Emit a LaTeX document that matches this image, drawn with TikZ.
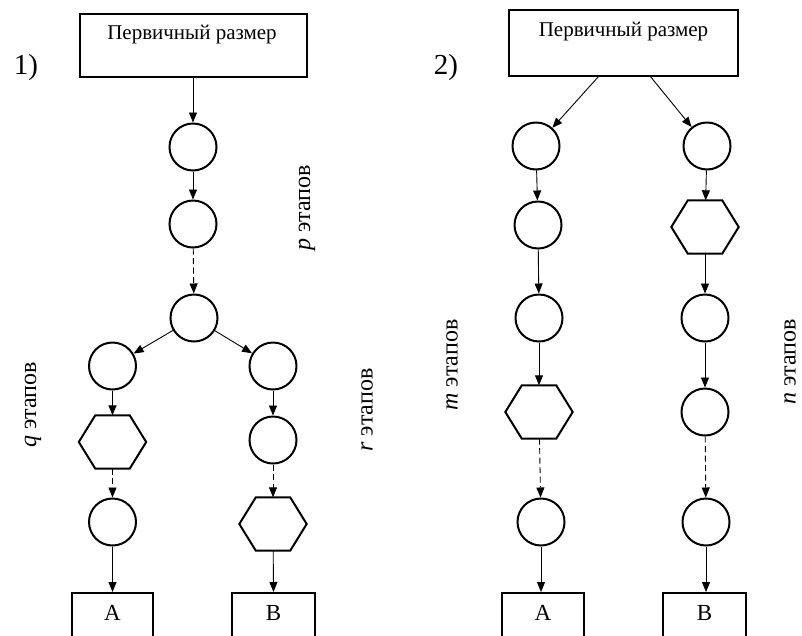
\documentclass[tikz,border=0pt]{standalone}
\usepackage{fontspec}
\setmainfont{Liberation Serif}
\usetikzlibrary{arrows.meta}
\newcommand{\hexdraw}[1]{\draw[shapeline] (#1.west) -- ([xshift=16.5pt]#1.north west) -- ([xshift=-16.5pt]#1.north east) -- (#1.east) -- ([xshift=-16.5pt]#1.south east) -- ([xshift=16.5pt]#1.south west) -- cycle;}
\tikzset{
  stage/.style={circle, draw, line width=2pt, minimum size=47pt, inner sep=0pt},
  hexbox/.style={rectangle, minimum width=67pt, minimum height=53pt, inner sep=0pt},
  shapeline/.style={line width=2pt, line join=miter},
  frame/.style={draw, rectangle, line width=2pt, inner sep=0pt},
  arr/.style={-{Triangle[length=10pt,width=8pt]}, line width=0.9pt},
  darr/.style={arr, dash pattern=on 6pt off 3.5pt},
  lbl/.style={font=\fontsize{21}{24}\selectfont},
  letter/.style={font=\fontsize{23}{26}\selectfont},
  num/.style={font=\fontsize{29}{32}\selectfont},
  side/.style={rotate=90, font=\fontsize{24}{27}\selectfont},
}
\begin{document}
\begin{tikzpicture}[x=1pt,y=1pt]
\clip (0,0) rectangle (802,-635);
\fill[white] (0,0) rectangle (802,-635);

% ---------- diagram 1 ----------
\node[num] (n1) at (26,-68) {1)};
\node[frame, minimum width=227pt, minimum height=63pt] (top1) at (193,-45.5) {};
\node[lbl] (t1) at (192,-35) {Первичный размер};

\node[stage] (c1) at (193,-147) {};
\node[stage] (c2) at (193,-224) {};
\node[stage] (c3) at (194,-318) {};

\node[stage] (L1) at (112.5,-366) {};
\node[hexbox] (L2) at (112.5,-442) {}; \hexdraw{L2}
\node[stage] (L3) at (112.5,-522) {};
\node[frame, minimum width=81pt, minimum height=70pt, anchor=north] (bA1) at (112.5,-592) {};
\node[letter] (A1) at (112.5,-613) {A};

\node[stage] (R1) at (273,-366) {};
\node[stage] (R2) at (273,-440) {};
\node[hexbox] (R3) at (273,-524) {}; \hexdraw{R3}
\node[frame, minimum width=83pt, minimum height=70pt, anchor=north] (bB1) at (273.5,-592) {};
\node[letter] (B1) at (273.5,-613) {B};

\draw[arr] (top1.south -| c1) -- (c1);
\draw[arr] (c1) -- (c2);
\draw[darr] (c2) -- (c3);
\draw[arr] (c3) -- (L1);
\draw[arr] (c3) -- (R1);
\draw[arr] (L1) -- (L2);
\draw[darr] (L2) -- (L3);
\draw[arr] (L3) -- (bA1.north);
\draw[arr] (R1) -- (R2);
\draw[darr] (R2) -- (R3);
\draw[arr] (R3) -- (bB1.north);

\node[side] (p1) at (307,-208) {\textit{p} этапов};
\node[side] (q1) at (33,-405) {\textit{q} этапов};
\node[side] (r1) at (367,-410) {\textit{r} этапов};

% ---------- diagram 2 ----------
\node[num] (n2) at (446,-68) {2)};
\node[frame, minimum width=229pt, minimum height=66pt] (top2) at (623.5,-43) {};
\node[lbl] (t2) at (623.5,-32) {Первичный размер};

\node[stage] (M1) at (536,-146) {};
\node[stage] (M2) at (538,-225) {};
\node[stage] (M3) at (539,-318) {};
\node[hexbox] (M4) at (539,-412) {}; \hexdraw{M4}
\node[stage] (M5) at (541,-522) {};
\node[frame, minimum width=82pt, minimum height=70pt, anchor=north] (bA2) at (543,-592) {};
\node[letter] (A2) at (543,-613) {A};

\node[stage] (N1) at (707,-146) {};
\node[hexbox] (N2) at (705,-227) {}; \hexdraw{N2}
\node[stage] (N3) at (705,-318) {};
\node[stage] (N4) at (705,-412) {};
\node[stage] (N5) at (706,-522) {};
\node[frame, minimum width=83pt, minimum height=70pt, anchor=north] (bB2) at (704.5,-592) {};
\node[letter] (B2) at (704.5,-613) {B};

\coordinate (s2l) at (599,-76);
\coordinate (s2r) at (650,-76);
\draw[arr] (s2l) -- (M1);
\draw[arr] (s2r) -- (N1);
\draw[arr] (M1) -- (M2);
\draw[arr] (M2) -- (M3);
\draw[arr] (M3) -- (M4);
\draw[darr] (M4) -- (M5);
\draw[arr] (M5) -- (M5 |- bA2.north);
\draw[arr] (N1) -- (N2);
\draw[arr] (N2) -- (N3);
\draw[arr] (N3) -- (N4);
\draw[darr] (N4) -- (N5);
\draw[arr] (N5) -- (N5 |- bB2.north);

\node[side] (m2) at (452,-365) {\textit{m} этапов};
\node[side] (n2l) at (790,-362) {\textit{n} этапов};
\end{tikzpicture}
\end{document}
